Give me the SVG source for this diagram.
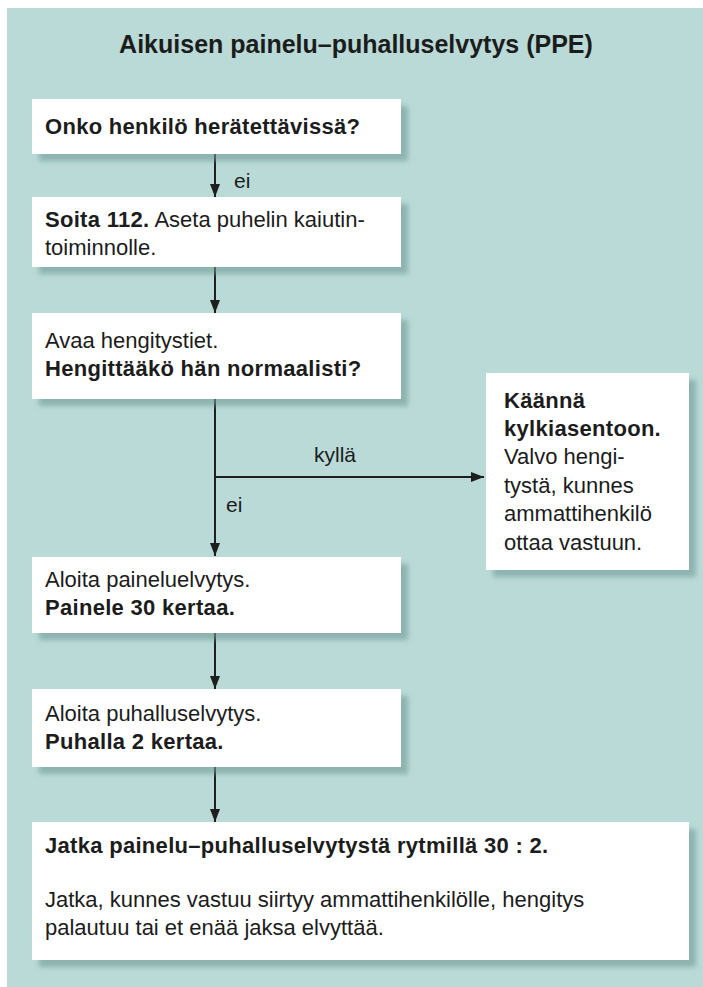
<svg xmlns="http://www.w3.org/2000/svg" width="703" height="987" viewBox="0 0 703 987">
  <defs>
    <filter id="shadow" x="-10%" y="-10%" width="130%" height="140%">
      <feDropShadow dx="7" dy="7" stdDeviation="2.5" flood-color="#6f9995" flood-opacity="0.6"/>
    </filter>
    <marker id="arrow" markerUnits="userSpaceOnUse" markerWidth="13" markerHeight="10" viewBox="0 0 13 10" refX="13" refY="5" orient="auto">
      <path d="M0,0 L13,5 L0,10 Z" fill="#1e1e1e"/>
    </marker>
    <style>
      .box { fill: #ffffff; filter: url(#shadow); }
      .t { font-family: "Liberation Sans", Arial, sans-serif; font-size: 22px; fill: #1c1c1c; }
      .b { font-weight: bold; letter-spacing: 0.3px; }
      .title { font-family: "Liberation Sans", Arial, sans-serif; font-size: 25px; font-weight: bold; fill: #1c1c1c; }
      .lbl { font-family: "Liberation Sans", Arial, sans-serif; font-size: 21px; fill: #1c1c1c; }
      .conn { stroke: #1e1e1e; stroke-width: 2; fill: none; }
    </style>
  </defs>

  <rect x="0" y="0" width="703" height="987" fill="#ffffff"/>
  <rect x="7" y="8" width="696" height="979" fill="#b9dad6"/>

  <text class="title" x="356" y="53" text-anchor="middle">Aikuisen painelu–puhalluselvytys (PPE)</text>

  <g id="connectors">
    <line class="conn" x1="215" y1="154" x2="215" y2="197" marker-end="url(#arrow)"/>
    <line class="conn" x1="215" y1="267" x2="215" y2="313" marker-end="url(#arrow)"/>
    <line class="conn" x1="215" y1="399" x2="215" y2="556" marker-end="url(#arrow)"/>
    <line class="conn" x1="214" y1="477" x2="484" y2="477" marker-end="url(#arrow)"/>
    <line class="conn" x1="215" y1="633" x2="215" y2="689" marker-end="url(#arrow)"/>
    <line class="conn" x1="215" y1="767" x2="215" y2="822" marker-end="url(#arrow)"/>
    <text class="lbl" x="234" y="188">ei</text>
    <text class="lbl" x="314" y="462">kyllä</text>
    <text class="lbl" x="226" y="512">ei</text>
  </g>

  <g id="n1">
    <rect class="box" x="32" y="99" width="369" height="55"/>
    <text class="t b" x="45" y="134">Onko henkilö herätettävissä?</text>
  </g>

  <g id="n2">
    <rect class="box" x="32" y="197" width="369" height="70"/>
    <text class="t" x="45" y="227"><tspan class="b">Soita 112.</tspan> Aseta puhelin kaiutin-</text>
    <text class="t" x="45" y="255">toiminnolle.</text>
  </g>

  <g id="n3">
    <rect class="box" x="32" y="313" width="369" height="86"/>
    <text class="t" x="45" y="348">Avaa hengitystiet.</text>
    <text class="t b" x="45" y="376">Hengittääkö hän normaalisti?</text>
  </g>

  <g id="n_side">
    <rect class="box" x="486" y="373" width="203" height="197"/>
    <text class="t b" x="504" y="408">Käännä</text>
    <text class="t b" x="504" y="436">kylkiasentoon.</text>
    <text class="t" x="504" y="464">Valvo hengi-</text>
    <text class="t" x="504" y="493">tystä, kunnes</text>
    <text class="t" x="504" y="521">ammattihenkilö</text>
    <text class="t" x="504" y="550">ottaa vastuun.</text>
  </g>

  <g id="n4">
    <rect class="box" x="32" y="557" width="369" height="76"/>
    <text class="t" x="45" y="587">Aloita paineluelvytys.</text>
    <text class="t b" x="45" y="615">Painele 30 kertaa.</text>
  </g>

  <g id="n5">
    <rect class="box" x="32" y="689" width="369" height="78"/>
    <text class="t" x="45" y="721">Aloita puhalluselvytys.</text>
    <text class="t b" x="45" y="749">Puhalla 2 kertaa.</text>
  </g>

  <g id="n6">
    <rect class="box" x="32" y="822" width="657" height="138"/>
    <text class="t b" x="45" y="853">Jatka painelu–puhalluselvytystä rytmillä 30 : 2.</text>
    <text class="t" x="45" y="907">Jatka, kunnes vastuu siirtyy ammattihenkilölle, hengitys</text>
    <text class="t" x="45" y="935">palautuu tai et enää jaksa elvyttää.</text>
  </g>
</svg>
